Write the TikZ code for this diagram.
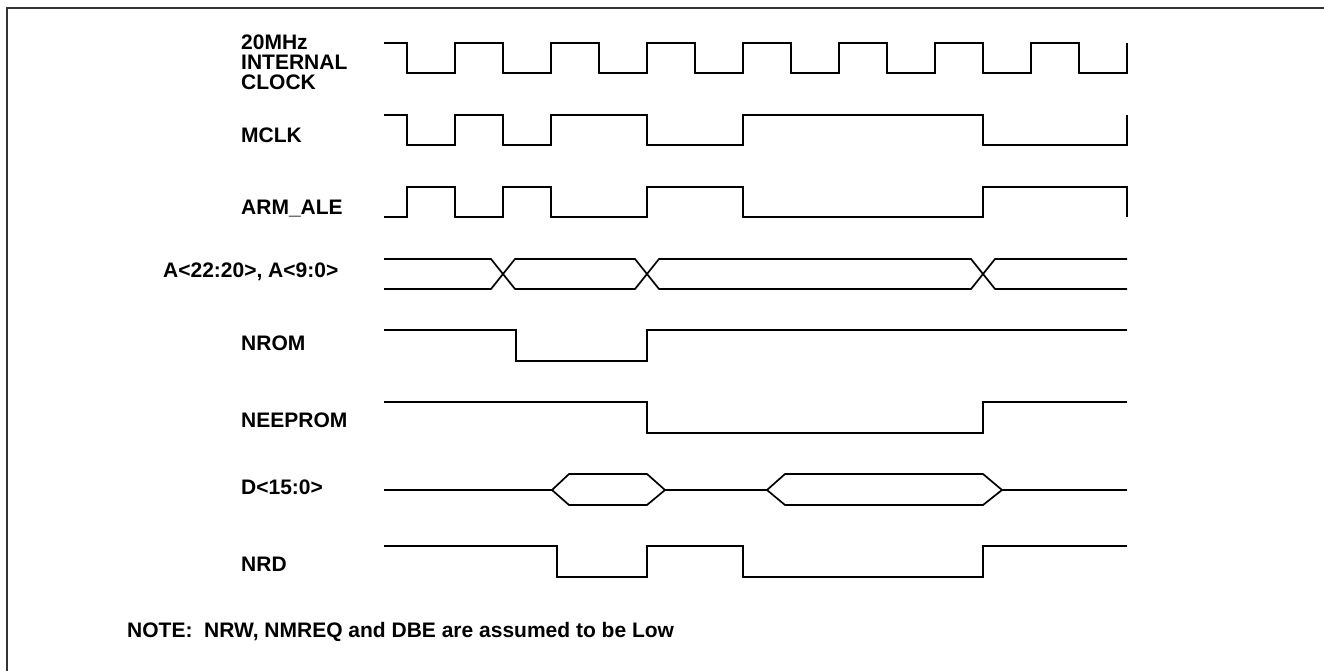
\documentclass[tikz,border=0pt]{standalone}
\usepackage{fontspec}
\setmainfont{Liberation Sans}
\begin{document}
\begin{tikzpicture}[x=1pt,y=-1pt,
  sig/.style={line width=1.7pt, line join=miter, line cap=butt, black},
  lbl/.style={anchor=base west, inner sep=0pt, font=\fontsize{21}{21}\selectfont\bfseries},
  frameline/.style={line width=2.2pt, draw={black!80}}]
\useasboundingbox (0,0) rectangle (1324,671);
% frame (top and left only)
\draw[frameline] (1324,8) -- (7,8) -- (7,671);
% labels
\node[lbl] (clkA) at (241,50) {20MHz};
\node[lbl] (clkB) at (241,70) {INTERNAL};
\node[lbl] (clkC) at (241,90) {CLOCK};
\node[lbl] (mclk) at (241,143) {MCLK};
\node[lbl] (ale) at (241,214) {ARM\_ALE};
\node[lbl] (addr) at (163,277) {A<22:20>, A<9:0>};
\node[lbl] (nrom) at (241,350) {NROM};
\node[lbl] (neep) at (241,427) {NEEPROM};
\node[lbl] (data) at (241,494) {D<15:0>};
\node[lbl] (nrd) at (241,571) {NRD};
\node[lbl] (note) at (127,637) {NOTE:\ \ NRW, NMREQ and DBE are assumed to be Low};
% 20MHz internal clock
\draw[sig] (384,43)--(407,43)--(407,73)--(455,73)--(455,43)--(503,43)--(503,73)--(551,73)--(551,43)--(599,43)--(599,73)--(647,73)--(647,43)--(695,43)--(695,73)--(743,73)--(743,43)--(791,43)--(791,73)--(839,73)--(839,43)--(887,43)--(887,73)--(935,73)--(935,43)--(983,43)--(983,73)--(1031,73)--(1031,43)--(1079,43)--(1079,73)--(1127,73)--(1127,43);
% MCLK
\draw[sig] (384,115)--(407,115)--(407,145)--(455,145)--(455,115)--(503,115)--(503,145)--(551,145)--(551,115)--(647,115)--(647,145)--(743,145)--(743,115)--(983,115)--(983,145)--(1127,145)--(1127,115);
% ARM_ALE
\draw[sig] (384,217)--(407,217)--(407,187)--(455,187)--(455,217)--(503,217)--(503,187)--(551,187)--(551,217)--(647,217)--(647,187)--(743,187)--(743,217)--(983,217)--(983,187)--(1127,187)--(1127,217);
% Address bus
\draw[sig] (384,259)--(491,259)--(515,289)--(635,289)--(659,259)--(971,259)--(995,289)--(1127,289);
\draw[sig] (384,289)--(491,289)--(515,259)--(635,259)--(659,289)--(971,289)--(995,259)--(1127,259);
% NROM
\draw[sig] (384,330)--(516,330)--(516,361)--(647,361)--(647,330)--(1127,330);
% NEEPROM
\draw[sig] (384,402)--(647,402)--(647,433)--(983,433)--(983,402)--(1127,402);
% D<15:0>
\draw[sig] (384,490)--(552,490);
\draw[sig] (552,490)--(569,474)--(647,474)--(665,490)--(647,505)--(569,505)--cycle;
\draw[sig] (665,490)--(767,490);
\draw[sig] (767,490)--(785,474)--(983,474)--(1002,490)--(983,505)--(785,505)--cycle;
\draw[sig] (1002,490)--(1127,490);
% NRD
\draw[sig] (384,546)--(557,546)--(557,577)--(647,577)--(647,546)--(743,546)--(743,577)--(983,577)--(983,546)--(1127,546);
\end{tikzpicture}
\end{document}
